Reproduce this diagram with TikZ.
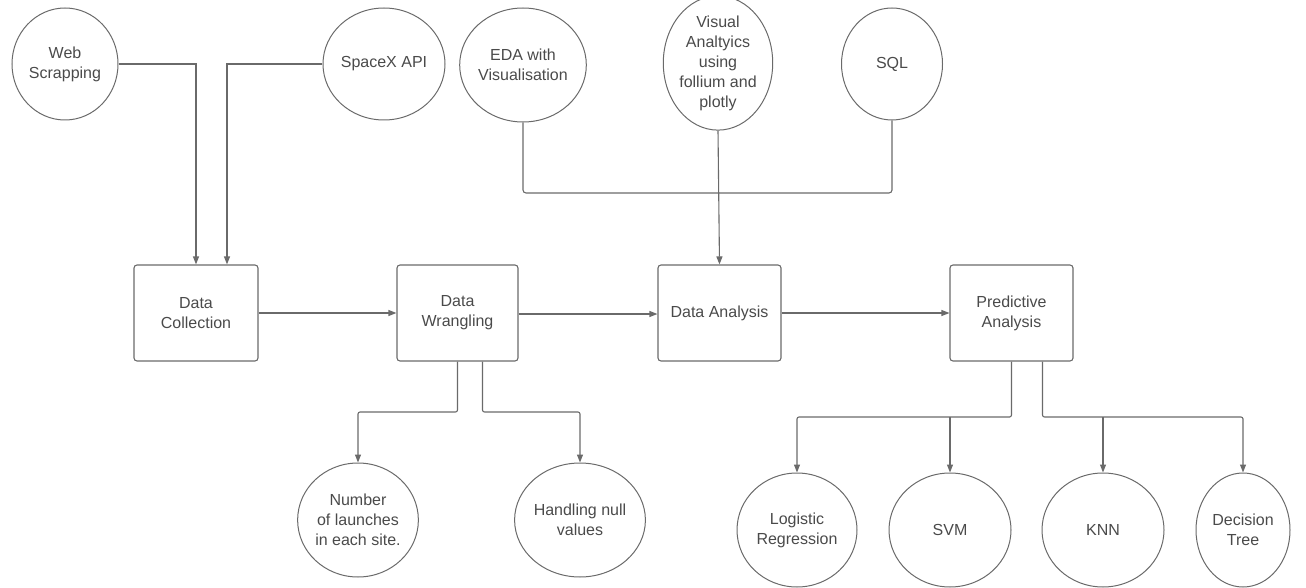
\documentclass[tikz,border=0pt]{standalone}
\usepackage{fontspec}
\setmainfont{Liberation Sans}
\usetikzlibrary{shapes.geometric,arrows.meta}
\definecolor{ln}{HTML}{6A6A6A}
\definecolor{tx}{HTML}{4A4A4A}
\begin{document}
\begin{tikzpicture}[x=1pt,y=-1pt,
  every node/.style={font=\fontsize{16}{20}\selectfont, text=tx, align=center, inner sep=0pt},
  stagebox/.style={draw=ln, line width=1.1pt, rounded corners=3pt, minimum width=123pt, minimum height=96pt},
  circ/.style={draw=ln, line width=1pt, ellipse, minimum width=104pt, minimum height=114pt},
  line/.style={draw=ln, line width=1.1pt},
  arr/.style={line, -{Triangle[length=8pt,width=6pt]}}]
\useasboundingbox (0,0) rectangle (1306,588);
% top circles
\node[circ, minimum width=106pt, minimum height=112pt] (web) at (65,64) {Web\\Scrapping};
\node[circ, minimum width=102pt, minimum height=112pt] (spx) at (384,64) {SpaceX API};
\node[circ, minimum width=100pt, minimum height=114pt] (eda) at (523,65) {EDA with\\Visualisation};
\node[circ, minimum width=100pt, minimum height=122pt] (va) at (718,63) {Visual\\Analtyics\\using\\follium and\\plotly};
\node[circ, minimum width=101pt, minimum height=112pt] (sql) at (892,64) {SQL};
% stages
\node[stagebox, minimum width=124pt] (dc) at (196,313) {Data\\Collection};
\node[stagebox, minimum width=121pt] (dw) at (457.5,313) {Data\\Wrangling};
\node[stagebox] (da) at (719.5,313) {Data Analysis};
\node[stagebox] (pa) at (1011.5,313) {Predictive\\Analysis};
% bottom circles
\node[circ, minimum width=106pt, minimum height=114pt] (nl) at (358,520) {Number\\of launches\\in each site.};
\node[circ, minimum width=106pt, minimum height=114pt] (hn) at (580,520) {Handling null\\values};
\node[circ, minimum width=120pt, minimum height=114pt] (lr) at (797,530) {Logistic\\Regression};
\node[circ, minimum width=122pt, minimum height=114pt] (svm) at (950,530) {SVM};
\node[circ, minimum width=122pt, minimum height=114pt] (knn) at (1103,530) {KNN};
\node[circ, minimum width=94pt, minimum height=114pt] (dt) at (1243,530) {Decision\\Tree};
% inputs to data collection
\draw[arr] (web.east) -| (dc.north);
\draw[arr] (spx.west) -| ([xshift=31pt]dc.north);
% analysis inputs
\draw[line, rounded corners=3pt] (eda.south) |- (718,193) -| (sql.south);
\draw[arr] (va.south) -- (da.north);
% main flow
\draw[arr] (dc.east) -- (dw.west);
\draw[arr] ([yshift=-1pt]dw.east) -- ([yshift=-1pt]da.west);
\draw[arr] (da.east) -- (pa.west);
% wrangling branches
\draw[arr, rounded corners=2pt] (dw.south) |- (420,412) -| (nl.north);
\draw[arr, rounded corners=2pt] ([xshift=25pt]dw.south) |- (530,412) -| (hn.north);
% predictive branches
\draw[arr, rounded corners=2pt] (pa.south) |- (900,417) -| (lr.north);
\draw[arr] (svm.north |- 0,417) -- (svm.north);
\draw[arr, rounded corners=2pt] ([xshift=31pt]pa.south) |- (1150,417) -| (dt.north);
\draw[arr] (knn.north |- 0,417) -- (knn.north);
\end{tikzpicture}
\end{document}
